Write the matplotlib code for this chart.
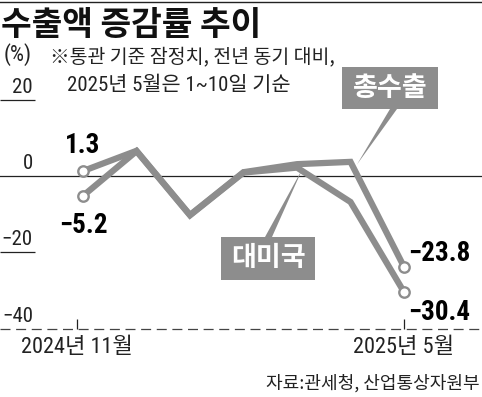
import matplotlib
matplotlib.use("Agg")
import matplotlib.pyplot as plt
from matplotlib.patches import Rectangle, Polygon
from matplotlib.lines import Line2D

plt.rcParams['font.family'] = ['Roboto Condensed', 'Noto Sans CJK KR', 'DejaVu Sans']
plt.rcParams['axes.unicode_minus'] = True

# --- datos ---
meses = ['2024-11', '2024-12', '2025-01', '2025-02', '2025-03', '2025-04', '2025-05']
total = [1.3, 6.6, -10.2, 1.0, 3.1, 3.7, -23.8]
eeuu = [-5.2, 6.5, -10.3, 0.9, 2.2, -6.8, -30.4]
y_ticks = [20, 0, -20, -40]
y_labels = ['20', '0', '−20', '−40']
x_labels = ['2024년 11월', '2025년 5월']
serie_labels = ['총수출', '대미국']

GRIS = '#8d8d8d'
KR = ['Noto Sans CJK KR', 'DejaVu Sans']

# escala en pixeles de la imagen (482x397)
W, H = 482, 397
X0, PXM = 83, 53.5      # pixel del primer mes, pixeles por mes
Y0, PXU = 176, 3.817    # pixel del cero, pixeles por unidad


def px(x):
    return (x - X0) / PXM


def py(y):
    return (Y0 - y) / PXU


fig = plt.figure(figsize=(W / 100, H / 100), dpi=100)
ax = fig.add_axes([0, 0, 1, 1])
ax.set_xlim(px(0), px(W))
ax.set_ylim(py(H), py(0))
ax.axis('off')

x = list(range(len(meses)))

# --- lineas de referencia ---
ax.axhline(0, color='#222222', lw=0.9, zorder=1)
ax.axhline(-40, color='#444444', lw=0.9, ls=(0, (8, 4.5)), zorder=1)
ax.hlines([20, -20], px(0), px(35), color='#222222', lw=0.9)
for v, lab in zip(y_ticks, y_labels):
    ax.text(px(33), v + 1.85, lab, ha='right', va='baseline', fontsize=15, color='#222222')
ax.text(px(4), py(61), '(%)', ha='left', va='baseline', fontsize=16, color='#222222')

# ticks del eje x
for xt, lab in zip([px(77), px(404)], x_labels):
    ax.vlines(xt, -40, -37.4, color='#222222', lw=0.9)
    ax.text(xt, py(337), lab, ha='center', va='top', fontsize=16, color='#222222')

# --- series ---
for serie in [eeuu, total]:
    ax.plot(x, serie, color=GRIS, lw=4.5, solid_joinstyle='miter', solid_capstyle='butt', zorder=3)
    ax.plot([x[0], x[-1]], [serie[0], serie[-1]], 'o', ms=7.5, mfc='white', mec=GRIS, mew=1.7, zorder=4)

# valores en los extremos
fmt = lambda v: f'{v:.1f}'.replace('-', '−')
ax.text(x[0], total[0] + 4.7, fmt(total[0]), ha='center', va='baseline', fontsize=19.5, fontweight='bold')
ax.text(x[0], eeuu[0] - 9.7, fmt(eeuu[0]), ha='center', va='baseline', fontsize=19.5, fontweight='bold')
ax.text(px(408), total[-1] + 1.6, fmt(total[-1]), ha='left', va='baseline', fontsize=19.5, fontweight='bold')
ax.text(px(408), eeuu[-1] - 7.3, fmt(eeuu[-1]), ha='left', va='baseline', fontsize=19.5, fontweight='bold')

# --- etiquetas con caja ---
cajas = [
    # (x0, x1, y_top, y_bot, base del puntero, punta)
    (342, 438, 67, 109, (390, 397), (5.12, 3.0)),
    (221, 315, 237, 280, (265, 272), (4.11, 2.1)),
]
for (cx0, cx1, cy0, cy1, base, punta), lab in zip(cajas, serie_labels):
    ax.add_patch(Rectangle((px(cx0), py(cy1)), px(cx1) - px(cx0), py(cy0) - py(cy1),
                           facecolor=GRIS, edgecolor='none', zorder=5))
    yb = py(cy1) if cy0 < 150 else py(cy0)
    ax.add_patch(Polygon([(px(base[0]), yb), (px(base[1]), yb), punta],
                         closed=True, facecolor=GRIS, edgecolor='none', zorder=5))
    ax.text((px(cx0) + px(cx1)) / 2, (py(cy0) + py(cy1)) / 2, lab, ha='center', va='center',
            fontsize=19.5, fontweight='bold', color='white', family=KR, zorder=6)

# --- textos ---
fig.add_artist(Line2D([0, 1], [1 - 1.5 / H, 1 - 1.5 / H], color='#222222', lw=1.0))
fig.text(1 / W, 1 - 9 / H, '수출액 증감률 추이', ha='left', va='top', fontsize=24,
         fontweight='bold', family=KR, color='#111111')
fig.text(50 / W, 1 - 46 / H, '※통관 기준 잠정치, 전년 동기 대비,', ha='left', va='top',
         fontsize=14, family=KR, color='#222222')
fig.text(67 / W, 1 - 76 / H, '2025년 5월은 1~10일 기순', ha='left', va='top',
         fontsize=15, color='#222222')
fig.text(480 / W, 1 - 374 / H, '자료:관세청, 산업통상자원부', ha='right', va='top',
         fontsize=13, family=KR, color='#222222')

fig.savefig('out.png', dpi=100, facecolor='white')
